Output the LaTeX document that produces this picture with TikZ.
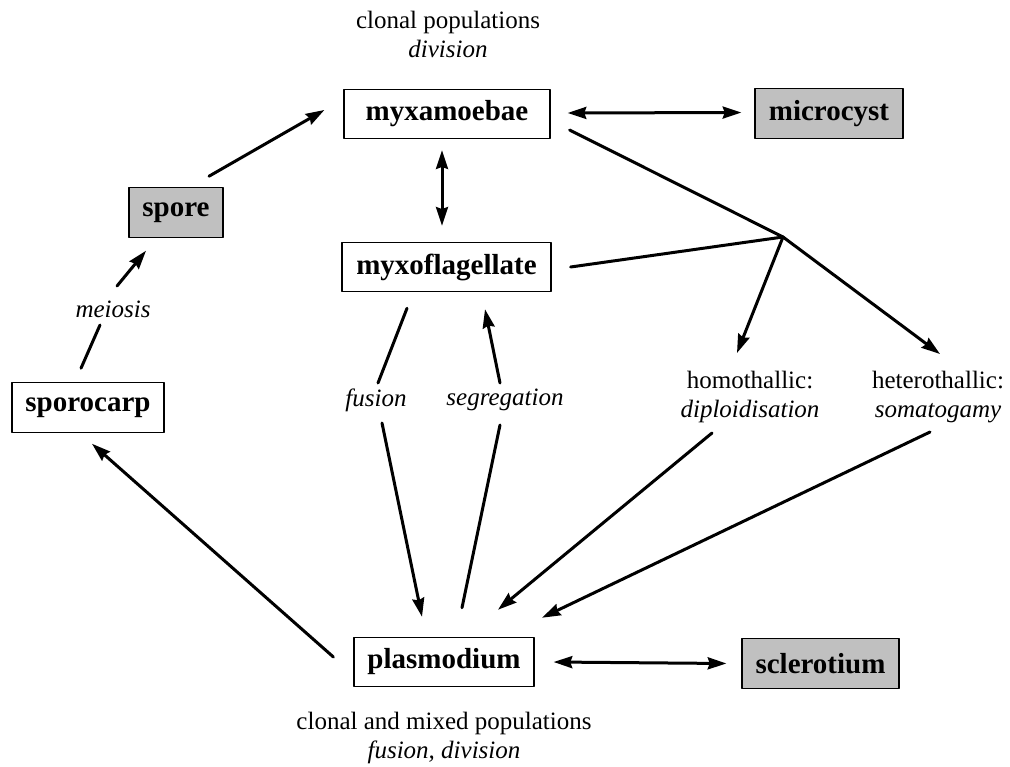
\documentclass[tikz,border=0pt]{standalone}
\usepackage{fontspec}
\setmainfont{Liberation Serif}
\usetikzlibrary{arrows.meta,calc}
\definecolor{restgray}{HTML}{C0C0C0}

\begin{document}
\begin{tikzpicture}[x=0.75pt,y=-0.75pt,>={Stealth[length=14pt,width=9pt,inset=1.5pt]}, line join=round, line cap=round,
        stage/.style={draw,line width=0.9pt,inner sep=0pt,minimum height=37pt,font=\fontsize{21.75}{26}\selectfont\bfseries},
        rest/.style={stage,fill=restgray},
        note/.style={inner sep=0pt,align=center,font=\fontsize{18.75}{21.75}\selectfont},
        link/.style={line width=2.25pt}]
        \useasboundingbox (0,0) rectangle (1010,767);
        % stages of the life cycle
        \node[stage,minimum width=154.5pt] (myxa) at (447,114) {myxamoebae};
        \node[rest,minimum width=111pt] (micro) at (829,113.5) {microcyst};
        \node[rest,minimum width=70.5pt] (spore) at (176,212.5) {spore};
        \node[stage,minimum width=156.75pt] (myxo) at (446.5,267) {myxoflagellate};
        \node[stage,minimum width=114pt] (sporo) at (88,407.5) {sporocarp};
        \node[stage,minimum width=135pt] (plasmo) at (444,662) {plasmodium};
        \node[rest,minimum width=117.75pt] (sclero) at (820.5,663.5) {sclerotium};
        % texts
        \node[note] (popTop) at (448,34) {clonal populations\\\textit{division}};
        \node[note] (popBot) at (444,738) {clonal and mixed populations\\\textit{fusion, division}};
        \node[note] (meio) at (113,309) {\textit{meiosis}};
        \node[note] (fus) at (376,400) {\textit{fusion}};
        \node[note] (seg) at (505,400) {\textit{segregation}};
        \node[note] (homo) at (750,397) {homothallic:\\\textit{diploidisation}};
        \node[note] (hetero) at (938,397) {heterothallic:\\\textit{somatogamy}};
        \coordinate (fork) at (783,237);
        % arrows
        \draw[link,->] ($(spore.north)+(33,-11)$) -- ($(myxa.west)+(-19,-4)$);
        \draw[link] ($(sporo.north)+(-7,-14)$) -- ($(meio)+(-13,16)$);
        \draw[link,->] ($(meio)+(4,-23)$) -- ($(spore.south)+(-30,13)$);
        \draw[link,<->] ($(myxa.east)+(17,-1)$) -- ($(micro.west)+(-13,-1)$);
        \draw[link,<->] ($(myxa.south)+(-5,11)$) -- ($(myxo.north)+(-4.5,-16)$);
        \draw[link] ($(myxa.east)+(19,16)$) -- (fork);
        \draw[link] ($(myxo.east)+(19,0)$) -- (fork);
        \draw[link,->] (fork) -- ($(homo)+(-13,-44)$);
        \draw[link,->] (fork) -- ($(hetero)+(2,-43)$);
        \draw[link,->] ($(homo)+(-38,36)$) -- ($(plasmo.north)+(54,-27)$);
        \draw[link,->] ($(hetero)+(-8,35)$) -- ($(plasmo.north)+(98,-19)$);
        \draw[link] ($(myxo.south)+(-39.5,16)$) -- ($(fus)+(2,-17)$);
        \draw[link,->] ($(fus)+(6,23)$) -- ($(plasmo.north)+(-22,-20)$);
        \draw[link] ($(plasmo.north)+(18,-29)$) -- ($(seg)+(-5,25)$);
        \draw[link,->] ($(seg)+(-5,-17)$) -- ($(myxo.south)+(38.5,17)$);
        \draw[link,->] ($(plasmo.west)+(-20,-5)$) -- ($(sporo.south)+(4,11)$);
        \draw[link,<->] ($(plasmo.east)+(19,0)$) -- ($(sclero.west)+(-15,0)$);
\end{tikzpicture}
\end{document}
